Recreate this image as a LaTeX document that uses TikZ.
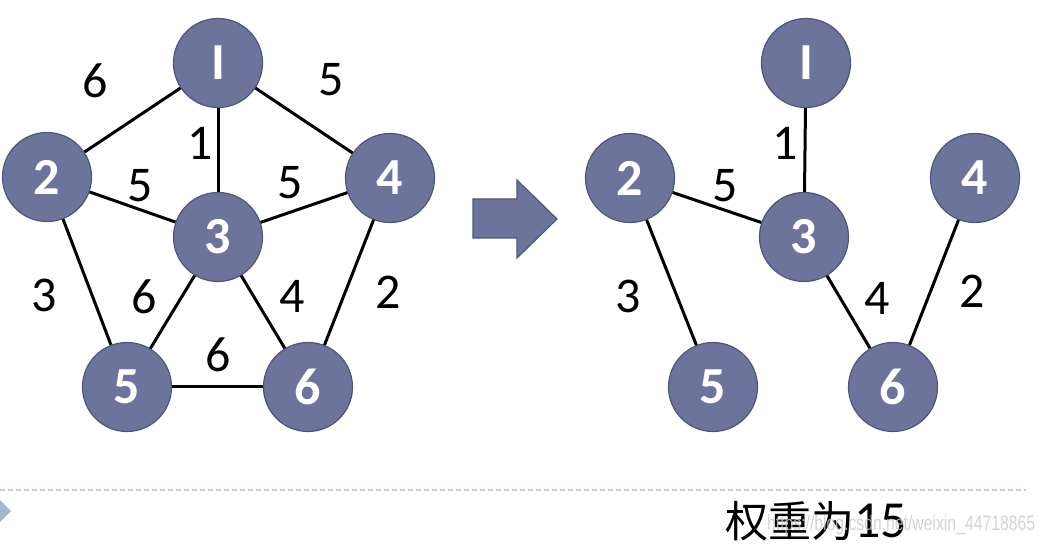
\documentclass[tikz,border=0pt]{standalone}
\usepackage{fontspec}
\setmainfont{Carlito}
\newfontfamily\cjk{Noto Sans CJK SC}
\newfontfamily\wmfont{Liberation Sans}
\definecolor{nodefill}{RGB}{108,116,156}
\definecolor{nodeedge}{RGB}{78,86,120}
\definecolor{dashcol}{RGB}{190,205,222}
\definecolor{tricol}{RGB}{160,185,210}
\definecolor{wmcol}{RGB}{200,200,200}
\tikzset{
  vert/.style={circle, fill=nodefill, draw=nodeedge, line width=1.2pt, minimum size=89pt, inner sep=0pt, text=white, font=\fontsize{52}{52}\selectfont\bfseries},
  edge/.style={line width=3pt, black},
  wlab/.style={font=\fontsize{50}{50}\selectfont, inner sep=0pt},
}
\begin{document}
\begin{tikzpicture}[x=1pt,y=-1pt]
\useasboundingbox (0,0) rectangle (1050,545);
% left graph
\node[vert] (a1) at (218,63) {I};
\node[vert] (a2) at (47,177) {2};
\node[vert] (a3) at (218,237) {3};
\node[vert] (a4) at (390,178) {4};
\node[vert] (a5) at (127,387) {5};
\node[vert] (a6) at (308,387) {6};
\draw[edge] (a1) -- (a2);
\draw[edge] (a1) -- (a4);
\draw[edge] (a1) -- (a3);
\draw[edge] (a2) -- (a3);
\draw[edge] (a3) -- (a4);
\draw[edge] (a2) -- (a5);
\draw[edge] (a3) -- (a5);
\draw[edge] (a3) -- (a6);
\draw[edge] (a4) -- (a6);
\draw[edge] (a5) -- (a6);
\node[wlab] (l12) at (95,81) {6};
\node[wlab] (l14) at (331,80) {5};
\node[wlab] (l13) at (200,143) {1};
\node[wlab] (l23) at (140,186) {5};
\node[wlab] (l34) at (290,183) {5};
\node[wlab] (l25) at (44,295) {3};
\node[wlab] (l35) at (144,297) {6};
\node[wlab] (l36) at (292,296) {4};
\node[wlab] (l46) at (388,292) {2};
\node[wlab] (l56) at (218,355) {6};
% arrow
\filldraw[fill=nodefill, draw=nodeedge, line width=1.2pt]
  (473,199) -- (517,199) -- (517,180) -- (557,219) -- (517,258) -- (517,238) -- (473,238) -- cycle;
% right graph
\node[vert] (b1) at (806,63) {I};
\node[vert] (b2) at (630,178) {2};
\node[vert] (b3) at (804,237) {3};
\node[vert] (b4) at (975,178) {4};
\node[vert] (b5) at (713,387) {5};
\node[vert] (b6) at (893,387) {6};
\draw[edge] (b1) -- (b3);
\draw[edge] (b2) -- (b3);
\draw[edge] (b2) -- (b5);
\draw[edge] (b3) -- (b6);
\draw[edge] (b4) -- (b6);
\node[wlab] (m13) at (785,143) {1};
\node[wlab] (m23) at (725,186) {5};
\node[wlab] (m25) at (628,296) {3};
\node[wlab] (m36) at (877,298) {4};
\node[wlab] (m46) at (972,291) {2};
% bottom
\coordinate (d0) at (0,490);
\coordinate (d1) at (1026,490);
\draw[dashcol, line width=1.2pt, dash pattern=on 5pt off 3pt] (d0) -- (d1);
\fill[tricol] (0,500) -- (11,511) -- (0,522) -- cycle;
\node[anchor=west, inner sep=0pt] (wt) at (725,521) {{\cjk\fontsize{43}{43}\selectfont 权重为}{\fontsize{52}{52}\selectfont 15}};
\node[anchor=west, inner sep=0pt, text=wmcol, opacity=0.8, xscale=0.75] (wm) at (767,525) {\wmfont\fontsize{21}{21}\selectfont https://blog.csdn.net/weixin\_44718865};
\end{tikzpicture}
\end{document}
